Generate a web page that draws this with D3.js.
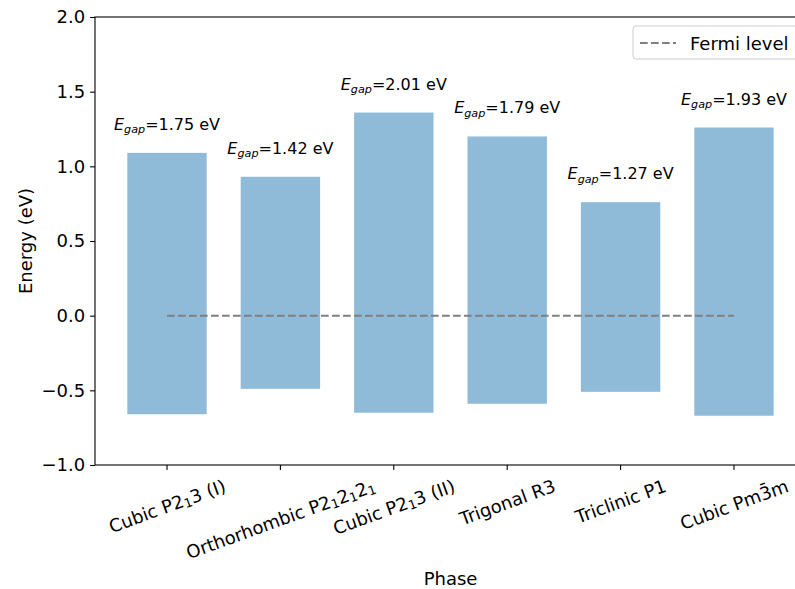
<!DOCTYPE html>
<html>
<head>
<meta charset="utf-8">
<script src="https://cdn.jsdelivr.net/npm/d3@7"></script>
<style>
  body { margin: 0; background: #fff; }
  svg { font-family: "DejaVu Sans", sans-serif; }
</style>
</head>
<body>
<svg id="chart"></svg>
<script>
// phase labels, parts: [text, isSubscript]
var phases = [
    [["Cubic P2", 0], ["1", 1], ["3 (I)", 0]],
    [["Orthorhombic P2", 0], ["1", 1], ["2", 0], ["1", 1], ["2", 0], ["1", 1]],
    [["Cubic P2", 0], ["1", 1], ["3 (II)", 0]],
    [["Trigonal R3", 0]],
    [["Triclinic P1", 0]],
    [["Cubic Pm3\u0304m", 0]]
];
var cbm = [1.09, 0.93, 1.36, 1.20, 0.76, 1.26];
var vbm = [-0.66, -0.49, -0.65, -0.59, -0.51, -0.67];
var gaps = ["1.75", "1.42", "2.01", "1.79", "1.27", "1.93"];
var yTicks = [-1.0, -0.5, 0.0, 0.5, 1.0, 1.5, 2.0];

var width = 795, height = 589;
var margin = {top: 17, left: 95, bottom: 465, right: 806};
var fs = 18;
var gfs = 16;

var svg = d3.select("#chart")
    .attr("width", width)
    .attr("height", height);

var x = d3.scaleLinear()
    .domain([-0.635, 5.635])
    .range([margin.left, margin.right]);

var y = d3.scaleLinear()
    .domain([-1, 2])
    .range([margin.bottom, margin.top]);

var idx = d3.range(phases.length);

// floating bars VBM -> CBM
svg.append("g")
    .selectAll("rect")
    .data(idx)
    .enter()
    .append("rect")
        .attr("x", i => x(i - 0.35))
        .attr("width", x(0.7) - x(0))
        .attr("y", i => y(cbm[i]))
        .attr("height", i => y(vbm[i]) - y(cbm[i]))
        .attr("fill", "#1f77b4")
        .attr("fill-opacity", 0.5);

// fermi level
svg.append("line")
    .attr("x1", x(0))
    .attr("x2", x(phases.length - 1))
    .attr("y1", y(0))
    .attr("y2", y(0))
    .attr("stroke", "gray")
    .attr("stroke-width", 2.08)
    .attr("stroke-dasharray", "7.7,3.3");

// gap labels
var gl = svg.append("g")
    .selectAll("text")
    .data(idx)
    .enter()
    .append("text")
        .attr("x", i => x(i))
        .attr("y", i => y(cbm[i]) - 23)
        .attr("text-anchor", "middle")
        .style("font-size", gfs + "px");
gl.append("tspan").style("font-style", "italic").text("E");
gl.append("tspan").style("font-style", "italic")
    .style("font-size", (gfs * 0.7) + "px")
    .attr("dy", 3.5)
    .text("gap");
gl.append("tspan").attr("dy", -3.5).text(i => "=" + gaps[i] + " eV");

// axes
var yAxis = g => g
    .attr("transform", `translate(${margin.left},0)`)
    .call(d3.axisLeft(y).tickValues(yTicks).tickSize(4.9).tickPadding(4.9)
        .tickFormat(d => d3.format(".1f")(d).replace("-", "\u2212")))
    .call(g => g.select(".domain").remove());

svg.append("g")
    .call(yAxis)
    .call(g => g.selectAll("text").style("font-size", fs + "px").attr("fill", "#000").style("font-family", "DejaVu Sans"))
    .call(g => g.selectAll("line").attr("stroke-width", 1.1));

var xg = svg.append("g");
xg.selectAll("line")
    .data(idx)
    .enter()
    .append("line")
        .attr("x1", i => x(i))
        .attr("x2", i => x(i))
        .attr("y1", margin.bottom)
        .attr("y2", margin.bottom + 4.9)
        .attr("stroke", "#000")
        .attr("stroke-width", 1.1);

var xl = xg.selectAll("text")
    .data(idx)
    .enter()
    .append("text")
        .attr("text-anchor", "middle")
        .attr("dominant-baseline", "central")
        .style("font-size", fs + "px");
xl.each(function(i) {
    var t = d3.select(this);
    phases[i].forEach(function(p) {
        var s = t.append("tspan").text(p[0]);
        if (p[1]) {
            s.style("font-size", (fs * 0.7) + "px").attr("dy", 4);
        }
        else {
            s.attr("dy", -4);
        }
    });
    // first tspan should not shift
    t.select("tspan").attr("dy", null);
});
// matplotlib style: rotated bbox centred under the tick
var ang = 20 * Math.PI / 180;
xl.each(function(i) {
    var t = d3.select(this);
    var w = this.getComputedTextLength();
    var h = fs * 1.17;
    var bh = w * Math.sin(ang) + h * Math.cos(ang);
    var cy = margin.bottom + 9.7 + bh / 2;
    t.attr("x", x(i)).attr("y", cy)
        .attr("transform", `rotate(-20,${x(i)},${cy})`);
});

// spines
svg.append("rect")
    .attr("x", margin.left)
    .attr("y", margin.top)
    .attr("width", margin.right - margin.left)
    .attr("height", margin.bottom - margin.top)
    .attr("fill", "none")
    .attr("stroke", "#000")
    .attr("stroke-width", 1.1);

svg.append("text")
    .attr("x", (margin.left + margin.right) / 2)
    .attr("y", 585)
    .attr("text-anchor", "middle")
    .style("font-size", fs + "px")
    .text("Phase");

svg.append("text")
    .attr("transform", `translate(32,${(margin.top + margin.bottom) / 2}) rotate(-90)`)
    .attr("text-anchor", "middle")
    .style("font-size", fs + "px")
    .text("Energy (eV)");

// legend
var lg = svg.append("g").attr("transform", "translate(633,26)");
lg.append("rect")
    .attr("width", 165)
    .attr("height", 33)
    .attr("rx", 3)
    .attr("fill", "#fff")
    .attr("fill-opacity", 0.8)
    .attr("stroke", "#ccc");
lg.append("line")
    .attr("x1", 7).attr("x2", 43)
    .attr("y1", 17).attr("y2", 17)
    .attr("stroke", "gray")
    .attr("stroke-width", 2.08)
    .attr("stroke-dasharray", "7.7,3.3");
lg.append("text")
    .attr("x", 57)
    .attr("y", 23.5)
    .style("font-size", fs + "px")
    .text("Fermi level");
</script>
</body>
</html>
